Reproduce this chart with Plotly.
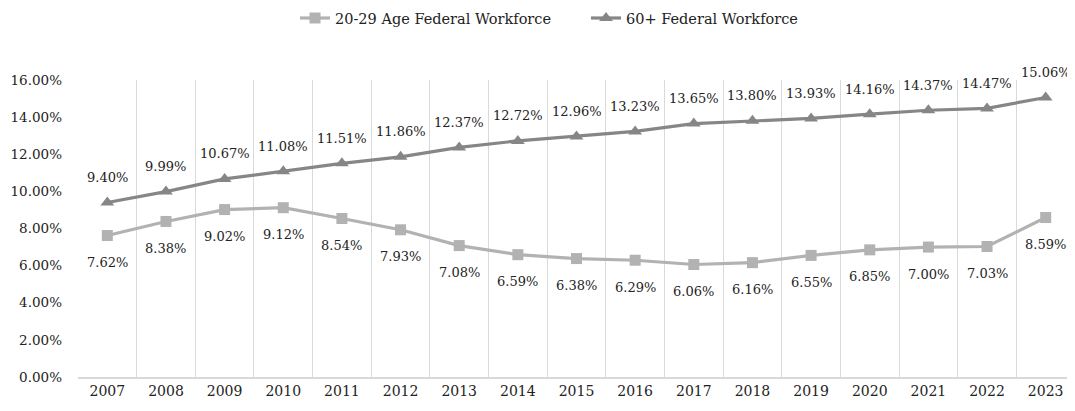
import plotly.graph_objects as go

years = ["2007", "2008", "2009", "2010", "2011", "2012", "2013", "2014", "2015",
         "2016", "2017", "2018", "2019", "2020", "2021", "2022", "2023"]
age_20_29 = [7.62, 8.38, 9.02, 9.12, 8.54, 7.93, 7.08, 6.59, 6.38, 6.29, 6.06,
             6.16, 6.55, 6.85, 7.00, 7.03, 8.59]
age_60_plus = [9.40, 9.99, 10.67, 11.08, 11.51, 11.86, 12.37, 12.72, 12.96, 13.23,
               13.65, 13.80, 13.93, 14.16, 14.37, 14.47, 15.06]
y_ticks = [0, 2, 4, 6, 8, 10, 12, 14, 16]

FONT = "DejaVu Serif"
c_young = "#b2b2b2"
c_old = "#868686"

fig = go.Figure()
fig.add_trace(go.Scatter(
    x=years, y=[v / 100 for v in age_20_29], name="20-29 Age Federal Workforce",
    mode="lines+markers",
    line=dict(color=c_young, width=3.2),
    marker=dict(symbol="square", size=11, color=c_young),
    cliponaxis=False,
))
fig.add_trace(go.Scatter(
    x=years, y=[v / 100 for v in age_60_plus], name="60+ Federal Workforce",
    mode="lines+markers",
    line=dict(color=c_old, width=3.2),
    marker=dict(symbol="triangle-up", size=12, color=c_old),
    cliponaxis=False,
))

annotations = []
for i, v in enumerate(age_20_29):
    annotations.append(dict(x=i, y=v / 100, xref="x", yref="y", text=f"{v:.2f}%",
                            showarrow=False, yshift=-27,
                            font=dict(family=FONT, size=13, color="#222222")))
for i, v in enumerate(age_60_plus):
    annotations.append(dict(x=i, y=v / 100, xref="x", yref="y", text=f"{v:.2f}%",
                            showarrow=False, yshift=25,
                            font=dict(family=FONT, size=13, color="#222222")))

fig.update_layout(
    width=1067, height=403,
    margin=dict(l=70, r=0, t=72, b=34, autoexpand=False),
    paper_bgcolor="white", plot_bgcolor="white",
    font=dict(family=FONT, size=13, color="#222222"),
    legend=dict(orientation="h", xref="container", x=0.269, xanchor="left",
                yref="container", y=0.975, yanchor="middle", entrywidth=246,
                font=dict(family=FONT, size=14.5), traceorder="normal"),
    showlegend=True,
    annotations=annotations,
)
fig.update_xaxes(
    type="category", tickson="boundaries", showgrid=True, gridcolor="#d9d9d9",
    gridwidth=1, showline=True, linecolor="#d9d9d9", linewidth=1.5,
    ticks="", tickfont=dict(family=FONT, size=14),
    range=[-0.5, 16.5], automargin=False,
)
fig.update_yaxes(
    range=[0, 0.16], tickvals=[t / 100 for t in y_ticks], tickformat=".2%",
    showgrid=False, zeroline=False, showline=False, ticks="",
    tickfont=dict(family=FONT, size=13.5), ticklabelstandoff=15, automargin=False,
)

fig.write_html("out.html")
